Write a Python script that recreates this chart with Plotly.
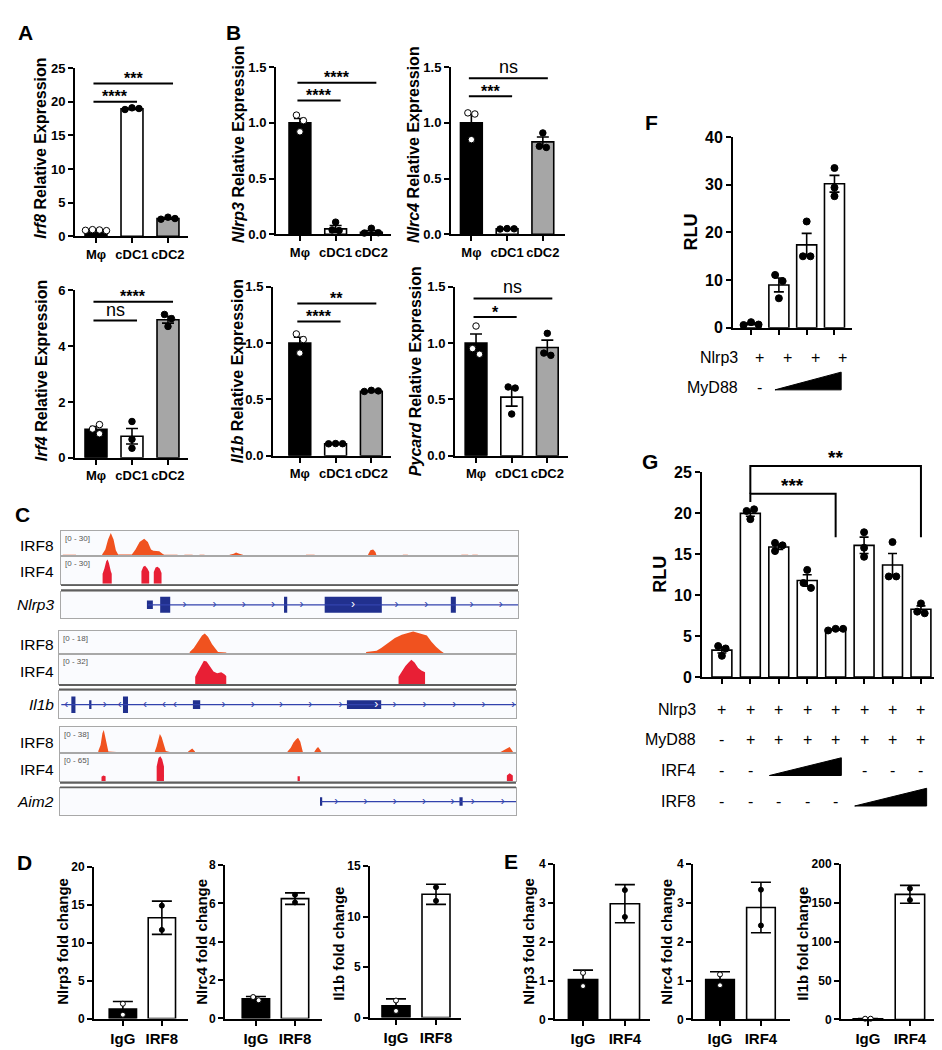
import plotly.graph_objects as go

W, H = 942, 1050
FONT = "Liberation Sans, Arial, Helvetica, sans-serif"

# =============================== DATA ===============================
CELLS = ["Mφ", "cDC1", "cDC2"]
CELL_FILL = ["#000000", "#ffffff", "#a6a6a6"]
CELL_PT = ["#ffffff", "#000000", "#000000"]

IRF8_MEAN = [0.93, 18.95, 2.65]
IRF8_SEM = [0.05, 0.08, 0.1]
IRF8_PTS = [[1.0, 0.95, 0.9, 0.85], [19.1, 19.0, 18.85], [2.85, 2.65, 2.55]]
IRF8_SIG = [(0, 1, 20.0, "****"), (0, 2, 22.7, "***")]

IRF4_MEAN = [1.02, 0.77, 4.95]
IRF4_SEM = [0.1, 0.28, 0.12]
IRF4_PTS = [[1.03, 1.19, 0.86], [1.30, 0.66, 0.34], [5.14, 4.99, 4.71]]
IRF4_SIG = [(0, 1, 4.92, "ns"), (0, 2, 5.6, "****")]

NLRP3_MEAN = [1.0, 0.05, 0.02]
NLRP3_SEM = [0.04, 0.03, 0.015]
NLRP3_PTS = [[0.92, 1.07, 1.02], [0.11, 0.04, 0.035], [0.055, 0.015, 0.012]]
NLRP3_SIG = [(0, 1, 1.20, "****"), (0, 2, 1.36, "****")]

NLRC4_MEAN = [1.0, 0.05, 0.83]
NLRC4_SEM = [0.075, 0.003, 0.044]
NLRC4_PTS = [[0.85, 1.09, 1.08], [0.052, 0.05, 0.048], [0.91, 0.79, 0.78]]
NLRC4_SIG = [(0, 1, 1.24, "***"), (0, 2, 1.40, "ns")]

IL1B_MEAN = [1.0, 0.107, 0.572]
IL1B_SEM = [0.05, 0.002, 0.004]
IL1B_PTS = [[0.91, 1.08, 1.03], [0.108, 0.107, 0.106], [0.58, 0.575, 0.57]]
IL1B_SIG = [(0, 1, 1.19, "****"), (0, 2, 1.35, "**")]

PYCARD_MEAN = [1.0, 0.52, 0.96]
PYCARD_SEM = [0.08, 0.08, 0.065]
PYCARD_PTS = [[1.15, 0.95, 0.90], [0.37, 0.61, 0.60], [1.085, 0.91, 0.89]]
PYCARD_SIG = [(0, 1, 1.23, "*"), (0, 2, 1.395, "ns")]

# ChIP fold change (D: IRF8, E: IRF4)
D_CATS = ["IgG", "IRF8"]
E_CATS = ["IgG", "IRF4"]
CHIP_FILL = ["#000000", "#ffffff"]
CHIP_PT = ["#ffffff", "#000000"]
D_NLRP3_MEAN = [1.25, 13.3]
D_NLRP3_SD = [1.0, 2.2]
D_NLRP3_PTS = [[1.95, 0.5], [14.9, 11.7]]
D_NLRC4_MEAN = [1.03, 6.25]
D_NLRC4_SD = [0.12, 0.3]
D_NLRC4_PTS = [[1.12, 0.95], [6.45, 6.05]]
D_IL1B_MEAN = [1.15, 12.2]
D_IL1B_SD = [0.7, 1.0]
D_IL1B_PTS = [[1.68, 0.65], [12.9, 11.55]]
E_NLRP3_MEAN = [1.03, 2.98]
E_NLRP3_SD = [0.24, 0.49]
E_NLRP3_PTS = [[1.2, 0.86], [3.33, 2.64]]
E_NLRC4_MEAN = [1.03, 2.88]
E_NLRC4_SD = [0.2, 0.65]
E_NLRC4_PTS = [[1.16, 0.88], [3.34, 2.42]]
E_IL1B_MEAN = [1.0, 161.0]
E_IL1B_SD = [0.3, 11.5]
E_IL1B_PTS = [[1.0, 1.0], [168.4, 153.7]]

# Luciferase (F, G)
F_MEAN = [0.83, 9.0, 17.4, 30.2]
F_SEM = [0.18, 1.45, 2.4, 1.75]
F_PTS = [[1.2, 0.7, 0.6], [11.1, 9.8, 6.2], [22.3, 15.0, 15.0], [33.5, 29.4, 27.6]]
F_ROWS = [("Nlrp3", ["+", "+", "+", "+"], None),
          ("MyD88", ["-", "", "", ""], (1, 3))]

G_MEAN = [3.3, 20.0, 15.9, 11.8, 5.8, 16.1, 13.7, 8.3]
G_SEM = [0.35, 0.35, 0.3, 0.7, 0.07, 1.0, 1.4, 0.4]
G_PTS = [[3.8, 3.5, 2.6], [20.3, 20.5, 19.3], [16.4, 16.1, 15.4], [13.1, 11.5, 10.9],
         [5.9, 5.9, 5.7], [17.7, 15.8, 14.7], [16.5, 12.3, 12.3], [9.0, 8.0, 7.8]]
G_ROWS = [("Nlrp3", ["+", "+", "+", "+", "+", "+", "+", "+"], None),
          ("MyD88", ["-", "+", "+", "+", "+", "+", "+", "+"], None),
          ("IRF4", ["-", "-", "", "", "", "-", "-", "-"], (2, 4)),
          ("IRF8", ["-", "-", "-", "-", "-", "", "", ""], (5, 7))]
# (from bar, to bar, bracket top, left leg bottom, right leg bottom, label)
G_SIG = [(1, 4, 22.4, 21.4, 17.1, "***"), (1, 7, 25.8, 22.4, 17.1, "**")]

# ChIP-seq coverage profiles, genomic position 0-100 of the window, signal
IRF8_NLRP3 = [(0.4, 0), (0.4, 1.5), (3.3, 1.5), (3.3, 0),
              (9.0, 0), (9.0, 2), (9.7, 8), (10.3, 20), (10.9, 28), (11.5, 20), (12.0, 7), (12.5, 2),
              (15.5, 2), (16.3, 8), (17.2, 17), (18.2, 21), (19.0, 17), (19.7, 8), (20.2, 6.5),
              (21.5, 6), (22.2, 3), (22.6, 1.5), (25.5, 1.5), (25.5, 0),
              (27.0, 0), (27.0, 1.5), (28.8, 1.5), (28.8, 0),
              (30.3, 0), (30.3, 1.5), (31.4, 1.5), (31.4, 0),
              (36.9, 0), (36.9, 1.5), (37.8, 3), (38.3, 4.5), (39.0, 3), (39.8, 1.5), (39.8, 0),
              (53.6, 0), (53.6, 1.5), (55.5, 1.5), (55.5, 0),
              (67.2, 0), (67.2, 2), (67.7, 7), (68.3, 8), (68.8, 5), (69.0, 1.5), (69.0, 0),
              (74.8, 0), (74.8, 1.5), (75.9, 1.5), (75.9, 0),
              (87.6, 0), (87.6, 1.5), (89.1, 1.5), (89.1, 0),
              (90.0, 0), (90.0, 1.5), (91.2, 1.5), (91.2, 0)]
IRF4_NLRP3 = [(9.1, 0), (9.1, 11), (9.5, 17), (9.9, 25), (10.2, 27), (10.5, 23), (10.9, 14), (11.1, 11), (11.1, 0),
              (17.6, 0), (17.6, 14), (18.0, 19), (18.4, 20), (18.9, 17), (19.3, 13), (19.3, 0),
              (20.3, 0), (20.3, 13), (20.7, 18), (21.1, 19), (21.6, 17), (22.0, 12), (22.0, 0)]
IRF8_IL1B = [(9.6, 0), (9.6, 1), (14.0, 1), (14.0, 0),
             (18.7, 0), (18.7, 1), (25.7, 1), (25.7, 0),
             (28.6, 0), (28.6, 2), (29.5, 5), (30.4, 10), (31.3, 15), (31.9, 16.5), (32.6, 14),
             (33.5, 8), (34.3, 4), (34.8, 2), (36.6, 1.5), (36.6, 0),
             (47.2, 0), (47.2, 1), (51.2, 1), (51.2, 0),
             (67.2, 0), (67.2, 2), (69.5, 3), (70.5, 5), (72.0, 9), (73.5, 13), (75.0, 15.5),
             (76.5, 17), (77.5, 18), (79.0, 16.5), (80.5, 15), (81.5, 10), (82.5, 6), (83.5, 3),
             (84.3, 1), (84.3, 0),
             (89.8, 0), (89.8, 1), (99.8, 1), (99.8, 0)]
IRF4_IL1B = [(29.8, 0), (29.8, 8), (30.4, 14), (31.0, 20), (31.7, 26), (32.3, 25), (33.0, 20), (33.8, 14),
             (34.6, 12), (35.5, 13), (36.2, 11), (36.6, 9), (36.6, 0),
             (74.3, 0), (74.3, 8), (75.0, 14), (75.8, 20), (76.5, 24), (77.1, 27), (77.8, 24),
             (78.6, 18), (79.3, 15), (80.1, 13), (80.1, 0)]
IRF8_AIM2 = [(8.4, 0), (8.4, 3), (8.9, 12), (9.3, 30), (9.6, 35), (9.9, 25), (10.3, 10), (10.6, 2), (12.4, 1.5), (12.4, 0),
             (17.2, 0), (17.2, 1.5), (18.2, 1.5), (18.2, 0),
             (18.6, 0), (18.6, 1.5), (19.7, 1.5), (19.7, 0),
             (20.8, 0), (20.8, 2), (21.2, 10), (21.6, 24), (21.9, 29), (22.3, 24), (22.8, 10), (23.2, 3),
             (24.1, 1.5), (24.1, 0),
             (28.1, 0), (28.1, 2), (28.7, 5), (29.0, 6.5), (29.6, 2), (29.6, 0),
             (48.2, 0), (48.2, 1.5), (49.3, 1.5), (49.3, 0),
             (49.9, 0), (49.9, 2), (50.6, 8), (51.2, 16), (51.8, 21), (52.2, 23), (52.7, 17), (53.1, 8),
             (53.3, 2), (53.3, 0),
             (53.6, 0), (53.6, 1.5), (54.4, 1.5), (54.4, 0),
             (55.8, 0), (55.8, 2), (56.3, 7), (56.6, 9), (57.0, 5), (57.3, 2), (57.3, 0),
             (58.0, 0), (58.0, 1.5), (59.1, 1.5), (59.1, 0),
             (60.6, 0), (60.6, 1.5), (61.3, 1.5), (61.3, 0),
             (67.2, 0), (67.2, 1.5), (68.2, 1.5), (68.2, 0),
             (69.0, 0), (69.0, 1.5), (69.7, 1.5), (69.7, 0),
             (81.4, 0), (81.4, 1.5), (83.6, 1.5), (83.6, 0),
             (84.9, 0), (84.9, 1.5), (85.8, 1.5), (85.8, 0),
             (86.9, 0), (86.9, 1.5), (88.0, 1.5), (88.0, 0),
             (96.6, 0), (96.6, 1.5), (97.4, 4), (98.3, 8), (98.6, 9), (99.0, 5), (99.3, 2), (99.3, 0)]
IRF4_AIM2 = [(9.1, 0), (9.1, 11), (9.5, 14), (10.0, 12), (10.0, 0),
             (21.2, 0), (21.2, 35), (21.6, 55), (22.0, 59), (22.4, 52), (22.8, 35), (22.8, 0),
             (52.1, 0), (52.1, 12), (52.6, 12), (52.6, 0),
             (98.0, 0), (98.0, 14), (98.6, 19), (99.3, 14), (99.3, 0)]
TRACK_MAX = {"IRF8_NLRP3": 30, "IRF4_NLRP3": 30, "IRF8_IL1B": 18, "IRF4_IL1B": 32,
             "IRF8_AIM2": 38, "IRF4_AIM2": 65}

# gene models: (start, end, kind); span; arrows (position, direction)
NLRP3_SPAN = (19.0, 100.0)
NLRP3_EXONS = [(18.8, 20.1, "utr"), (21.7, 23.9, "cds"), (48.8, 49.5, "cds"),
               (57.7, 70.2, "cds"), (85.3, 86.4, "cds")]
NLRP3_ARROWS = [(27, ">"), (33.6, ">"), (40, ">"), (46.4, ">"), (52.6, ">"), (73.4, ">"),
                (79.9, ">"), (89.8, ">"), (96.2, ">")]
NLRP3_INNER = [(63.9, ">")]
IL1B_SPAN = (0.5, 100.0)
IL1B_EXONS = [(2.7, 3.6, "cds"), (6.6, 7.1, "utr"), (14.0, 15.1, "cds"),
              (29.3, 30.9, "utr"), (63.0, 70.5, "utr")]
IL1B_ARROWS = [(1.6, "<"), (10.0, ">"), (13.3, "<"), (18.8, "<"),
               (23.0, "<"), (25.4, "<"), (36.0, ">"), (42.4, ">"), (48.6, ">"), (55.0, ">"),
               (61.6, ">"), (73.4, ">"), (80.0, ">"), (86.5, ">"), (92.9, ">"), (99.4, ">")]
IL1B_INNER = [(69.4, ">")]
AIM2_SPAN = (57.3, 100.0)
AIM2_EXONS = [(57.2, 57.5, "utr"), (87.6, 88.3, "utr")]
AIM2_ARROWS = [(60.6, ">"), (67.0, ">"), (73.4, ">"), (79.8, ">"), (86.1, ">"), (90.5, ">"), (97.1, ">")]
AIM2_INNER = []

# =============================== HELPERS ===============================
traces, shapes, annotations = [], [], []
layout = dict(width=W, height=H, margin=dict(l=0, r=0, t=0, b=0),
              paper_bgcolor="white", plot_bgcolor="rgba(0,0,0,0)",
              showlegend=False, font=dict(family=FONT, color="black"))
AXINFO = {}
NAX = [0]


def new_axes(x0, x1, ytop, ybot, xr, yr, xkw=None, ykw=None):
    NAX[0] += 1
    s = "" if NAX[0] == 1 else str(NAX[0])
    xa = dict(domain=[x0 / W, x1 / W], range=xr, anchor="y" + s, showgrid=False,
              zeroline=False, fixedrange=True)
    ya = dict(domain=[1 - ybot / H, 1 - ytop / H], range=yr, anchor="x" + s, showgrid=False,
              zeroline=False, fixedrange=True)
    xa.update(xkw or {})
    ya.update(ykw or {})
    layout["xaxis" + s] = xa
    layout["yaxis" + s] = ya
    AXINFO["x" + s] = (x0 / W, x1 / W, xr)
    AXINFO["y" + s] = (1 - ybot / H, 1 - ytop / H, yr)
    return "x" + s, "y" + s


def to_paper(ax, v):
    d0, d1, r = AXINFO[ax]
    return d0 + (v - r[0]) / (r[1] - r[0]) * (d1 - d0)


def ann(x, y, s, size, bold=False, angle=0, xanchor="center", yanchor="middle",
        color="black", yshift=0):
    annotations.append(dict(x=x, y=y, xref="paper", yref="paper", text=s, showarrow=False,
                            textangle=angle, xanchor=xanchor, yanchor=yanchor, yshift=yshift,
                            font=dict(family=FONT, size=size, color=color,
                                      weight="bold" if bold else "normal")))


def txt(x, y, s, size, **kw):
    ann(x / W, 1 - y / H, s, size, **kw)


def line_paper(x0, y0, x1, y1, width=2, color="black"):
    shapes.append(dict(type="line", xref="paper", yref="paper", x0=x0, y0=y0, x1=x1, y1=y1,
                       line=dict(color=color, width=width)))


def swarm(vals, ppu_y, ppu_x, d):
    placed, offs = [], []
    for v in vals:
        y = v * ppu_y
        for k in [0, 1, -1, 2, -2, 3, -3]:
            x = k * d
            if all((x - a) ** 2 + (y - b) ** 2 >= (d * 0.98) ** 2 for a, b in placed):
                break
        placed.append((x, y))
        offs.append(x)
    n = len(vals)
    cl = list(range(n))
    for i in range(n):
        for j in range(n):
            if i != j and abs(placed[i][1] - placed[j][1]) < d * 0.98:
                a, b = cl[i], cl[j]
                cl = [a if c == b else c for c in cl]
    for c in set(cl):
        idx = [i for i in range(n) if cl[i] == c]
        if len(idx) > 1:
            xs = [offs[i] for i in idx]
            mid = (max(xs) + min(xs)) / 2
            for i in idx:
                offs[i] -= mid
    return [o / ppu_x for o in offs]


def bar_panel(box, xr, yr, dtick, cats, means, errs, pts, fills, ptfills, bar_w, cap, msize,
              ytick_fs, xcat_fs, yfmt="", show_cats=True):
    x0, x1, yt, yb = box
    tf_y = dict(family=FONT, size=ytick_fs, color="black", weight="bold")
    tf_x = dict(family=FONT, size=xcat_fs, color="black", weight="bold")
    n = len(cats)
    xref, yref = new_axes(
        x0, x1, yt, yb, xr, yr,
        xkw=dict(showline=True, linecolor="black", linewidth=2, ticks="outside", ticklen=5,
                 tickwidth=2, tickcolor="black", tickvals=list(range(n)), tickangle=0,
                 ticktext=cats if show_cats else [""] * n, tickfont=tf_x),
        ykw=dict(showline=True, linecolor="black", linewidth=2, ticks="outside", ticklen=5,
                 tickwidth=2, tickcolor="black", tick0=0, dtick=dtick, tickformat=yfmt,
                 tickfont=tf_y))
    traces.append(go.Bar(x=list(range(n)), y=means, width=bar_w, xaxis=xref, yaxis=yref,
                         marker=dict(color=fills, line=dict(color="black", width=1.6)),
                         error_y=dict(type="data", array=errs, color="black", thickness=1.6,
                                      width=cap)))
    ppu_y = (yb - yt) / (yr[1] - yr[0])
    ppu_x = (x1 - x0) / (xr[1] - xr[0])
    for i, vals in enumerate(pts):
        offs = swarm(vals, ppu_y, ppu_x, msize + 0.5)
        traces.append(go.Scatter(x=[i + o for o in offs], y=vals, mode="markers",
                                 xaxis=xref, yaxis=yref, cliponaxis=False,
                                 marker=dict(size=msize, color=ptfills[i],
                                             line=dict(color="black", width=1))))
    return xref, yref


def sig_lines(xref, yref, sigs, lo=0.07, hi=0.14, ast_fs=16, ns_fs=18):
    for i, j, yv, lab in sigs:
        xa, xb = to_paper(xref, i - lo), to_paper(xref, j + hi)
        yy = to_paper(yref, yv)
        line_paper(xa, yy, xb, yy, width=2)
        if lab == "ns":
            ann((xa + xb) / 2, yy, lab, ns_fs, yshift=11)
        else:
            ann((xa + xb) / 2, yy, lab, ast_fs, bold=True, yshift=5)


TITLE_AB = 16
# =============================== PANEL A ===============================
xr_, yr_ = bar_panel((67, 180, 53, 224), [-0.583, 2.556], [0, 25], 5, CELLS, IRF8_MEAN, IRF8_SEM,
                     IRF8_PTS, CELL_FILL, CELL_PT, 0.61, 6, 6.5, 13, 13)
sig_lines(xr_, yr_, IRF8_SIG)
txt(33, 135, "<i>Irf8</i> Relative Expression", TITLE_AB, bold=True, angle=-90)

xr_, yr_ = bar_panel((67, 180, 279, 449), [-0.583, 2.556], [0, 6], 2, CELLS, IRF4_MEAN, IRF4_SEM,
                     IRF4_PTS, CELL_FILL, CELL_PT, 0.61, 6, 6.5, 13, 13)
sig_lines(xr_, yr_, IRF4_SIG)
txt(33, 361, "<i>Irf4</i> Relative Expression", TITLE_AB, bold=True, angle=-90)

# =============================== PANEL B ===============================
B_SPECS = [((268, 383, 52, 222), [-0.67, 2.55], NLRP3_MEAN, NLRP3_SEM, NLRP3_PTS, NLRP3_SIG,
            (231, 131), "<i>Nlrp3</i> Relative Expression"),
           ((443, 557, 52, 222), [-0.57, 2.62], NLRC4_MEAN, NLRC4_SEM, NLRC4_PTS, NLRC4_SIG,
            (406, 131), "<i>Nlrc4</i> Relative Expression"),
           ((265, 383, 275, 447), [-0.75, 2.55], IL1B_MEAN, IL1B_SEM, IL1B_PTS, IL1B_SIG,
            (229, 361), "<i>Il1b</i> Relative Expression"),
           ((447, 560, 275, 447), [-0.59, 2.58], PYCARD_MEAN, PYCARD_SEM, PYCARD_PTS, PYCARD_SIG,
            (407, 361), "<i>Pycard</i> Relative Expression")]
for box, xr, m, e, p, sg, tpos, title in B_SPECS:
    xr_, yr_ = bar_panel(box, xr, [0, 1.5], 0.5, CELLS, m, e, p, CELL_FILL, CELL_PT, 0.61, 6,
                         6.5, 13, 13, yfmt=".1f")
    sig_lines(xr_, yr_, sg)
    txt(tpos[0], tpos[1], title, TITLE_AB, bold=True, angle=-90)

# =============================== PANEL C ===============================
IRF8_COL = "#f0521f"
IRF4_COL = "#e81f35"
GENE_COL = "#21308e"
GENE_LINE = "#3242ad"
TRACK_BG = "#fafbfe"
KIND_H = {"cds": 0.3, "utr": 0.16}


def track_axes(box, ymax):
    x0, x1, yt, yb = box
    xr_, yr_ = new_axes(x0, x1, yt, yb, [0, 100], [0, ymax],
                        xkw=dict(showline=True, mirror=True, linecolor="#a8a8a8", linewidth=1,
                                 showticklabels=False, ticks=""),
                        ykw=dict(showline=True, mirror=True, linecolor="#a8a8a8", linewidth=1,
                                 showticklabels=False, ticks=""))
    shapes.append(dict(type="rect", xref=xr_ + " domain", yref=yr_ + " domain", x0=0, x1=1,
                       y0=0, y1=1, fillcolor=TRACK_BG, line=dict(width=0), layer="below"))
    return xr_, yr_


def coverage(box, prof, ymax, color, label, rng):
    xr_, yr_ = track_axes(box, ymax * 1.03)
    traces.append(go.Scatter(x=[p[0] for p in prof], y=[p[1] for p in prof], mode="lines",
                             fill="tozeroy", fillcolor=color, line=dict(color=color, width=0),
                             xaxis=xr_, yaxis=yr_))
    txt(box[0] + 2, box[2] + 1, rng, 8, color="#555555", xanchor="left", yanchor="top")
    txt(48, (box[2] + box[3]) / 2 + 2, label, 15.5, xanchor="right")


def gene(box, span, exons, arrows, inner, name):
    xr_, yr_ = track_axes(box, 1)
    traces.append(go.Scatter(x=list(span), y=[0.5, 0.5], mode="lines",
                             line=dict(color=GENE_LINE, width=1.3), xaxis=xr_, yaxis=yr_))
    traces.append(go.Bar(x=[(a + b) / 2 for a, b, k in exons], width=[b - a for a, b, k in exons],
                         y=[2 * KIND_H[k] for a, b, k in exons],
                         base=[0.5 - KIND_H[k] for a, b, k in exons],
                         marker=dict(color=GENE_COL, line=dict(width=0)), xaxis=xr_, yaxis=yr_))
    traces.append(go.Scatter(x=[a for a, d in arrows], y=[0.5] * len(arrows), mode="text",
                             text=["›" if d == ">" else "‹" for a, d in arrows],
                             textfont=dict(family=FONT, size=12, color=GENE_LINE),
                             xaxis=xr_, yaxis=yr_))
    if inner:
        traces.append(go.Scatter(x=[a for a, d in inner], y=[0.5] * len(inner), mode="text",
                                 text=["›" for a, d in inner],
                                 textfont=dict(family=FONT, size=12, color="white"),
                                 xaxis=xr_, yaxis=yr_))
    txt(48, (box[2] + box[3]) / 2, "<i>" + name + "</i>", 15.5, xanchor="right")


def dbl_line(x0, x1, y0, y1):
    line_paper(x0 / W, 1 - y0 / H, x1 / W, 1 - y0 / H, width=1.8, color="#5f5f5f")
    line_paper(x0 / W, 1 - y1 / H, x1 / W, 1 - y1 / H, width=1.8, color="#5f5f5f")


coverage((53, 510, 523, 549), IRF8_NLRP3, TRACK_MAX["IRF8_NLRP3"], IRF8_COL, "IRF8", "[0 - 30]")
coverage((53, 510, 549, 577), IRF4_NLRP3, TRACK_MAX["IRF4_NLRP3"], IRF4_COL, "IRF4", "[0 - 30]")
dbl_line(53, 510, 578.5, 583.5)
gene((53, 510, 585, 612), NLRP3_SPAN, NLRP3_EXONS, NLRP3_ARROWS, NLRP3_INNER, "Nlrp3")

coverage((51, 508, 625, 649), IRF8_IL1B, TRACK_MAX["IRF8_IL1B"], IRF8_COL, "IRF8", "[0 - 18]")
coverage((51, 508, 649, 679), IRF4_IL1B, TRACK_MAX["IRF4_IL1B"], IRF4_COL, "IRF4", "[0 - 32]")
dbl_line(51, 508, 680, 684.5)
gene((51, 508, 686, 714), IL1B_SPAN, IL1B_EXONS, IL1B_ARROWS, IL1B_INNER, "Il1b")

coverage((52, 508, 723, 749), IRF8_AIM2, TRACK_MAX["IRF8_AIM2"], IRF8_COL, "IRF8", "[0 - 38]")
coverage((52, 508, 749, 778), IRF4_AIM2, TRACK_MAX["IRF4_AIM2"], IRF4_COL, "IRF4", "[0 - 65]")
dbl_line(52, 508, 779.5, 784)
gene((52, 508, 785, 812), AIM2_SPAN, AIM2_EXONS, AIM2_ARROWS, AIM2_INNER, "Aim2")

# =============================== PANELS D / E ===============================
DE_SPECS = [((86, 180, 865, 1019), [-0.74, 1.67], [0, 20], 5, D_CATS, D_NLRP3_MEAN, D_NLRP3_SD,
             D_NLRP3_PTS, (55, 941), "Nlrp3 fold change"),
            ((217, 314, 863, 1019), [-0.79, 1.69], [0, 8], 2, D_CATS, D_NLRC4_MEAN, D_NLRC4_SD,
             D_NLRC4_PTS, (194, 941), "Nlrc4 fold change"),
            ((362, 453, 864, 1018), [-0.65, 1.625], [0, 15], 5, D_CATS, D_IL1B_MEAN, D_IL1B_SD,
             D_IL1B_PTS, (331, 943), "Il1b fold change"),
            ((547, 642, 862, 1020), [-0.67, 1.6], [0, 4], 1, E_CATS, E_NLRP3_MEAN, E_NLRP3_SD,
             E_NLRP3_PTS, (521, 941), "Nlrp3 fold change"),
            ((685, 782, 862, 1020), [-0.66, 1.71], [0, 4], 1, E_CATS, E_NLRC4_MEAN, E_NLRC4_SD,
             E_NLRC4_PTS, (659, 941), "Nlrc4 fold change"),
            ((833, 928, 862, 1020), [-0.64, 1.62], [0, 200], 50, E_CATS, E_IL1B_MEAN, E_IL1B_SD,
             E_IL1B_PTS, (795, 943), "Il1b fold change")]
for box, xr, yr, dt, cats, m, e, p, tpos, title in DE_SPECS:
    bar_panel(box, xr, yr, dt, cats, m, e, p, CHIP_FILL, CHIP_PT, 0.7, 10, 5, 12, 15)
    txt(tpos[0], tpos[1], title, 15, bold=True, angle=-90)

# =============================== PANEL F ===============================
fx, fy = bar_panel((725, 844, 123, 317), [-0.65, 3.63], [0, 40], 10, ["", "", "", ""],
                   F_MEAN, F_SEM, F_PTS, ["white"] * 4, ["black"] * 4, 0.72, 5, 7, 16, 15,
                   show_cats=False)
txt(683, 220, "RLU", 18, bold=True, angle=-90)
F_ROW_Y = [347, 378]
for (lab, syms, wedge), ry in zip(F_ROWS, F_ROW_Y):
    txt(732, ry, lab, 16, xanchor="right")
    for k, s in enumerate(syms):
        if s:
            ann(to_paper(fx, k + 0.3), 1 - ry / H, s, 16)
    if wedge:
        xa, xb = to_paper(fx, wedge[0] - 0.14), to_paper(fx, wedge[1] + 0.24)
        yb_, yt_ = 1 - (ry + 2) / H, 1 - (ry - 16) / H
        shapes.append(dict(type="path", xref="paper", yref="paper",
                           path=f"M {xa},{yb_} L {xb},{yb_} L {xb},{yt_} Z",
                           fillcolor="black", line=dict(color="black", width=1)))

# =============================== PANEL G ===============================
gx, gy = bar_panel((694, 932, 464, 672), [-0.70, 7.67], [0, 25], 5, [""] * 8,
                   G_MEAN, G_SEM, G_PTS, ["white"] * 8, ["black"] * 8, 0.70, 4.5, 7, 16, 15,
                   show_cats=False)
txt(652, 568, "RLU", 18, bold=True, angle=-90)
for i, j, top, lb, rb, lab in G_SIG:
    xa, xb = to_paper(gx, i), to_paper(gx, j)
    shapes.append(dict(type="path", xref="paper", yref="paper",
                       path=(f"M {xa},{to_paper(gy, lb)} L {xa},{to_paper(gy, top)} "
                             f"L {xb},{to_paper(gy, top)} L {xb},{to_paper(gy, rb)}"),
                       line=dict(color="black", width=2)))
    ann((xa + xb) / 2, to_paper(gy, top), lab, 19, bold=True, yshift=8)
G_ROW_Y = [705, 735, 767, 798]
for (lab, syms, wedge), ry in zip(G_ROWS, G_ROW_Y):
    txt(690, ry, lab, 16, xanchor="right")
    for k, s in enumerate(syms):
        if s:
            ann(to_paper(gx, k), 1 - ry / H, s, 16)
    if wedge:
        xa, xb = to_paper(gx, wedge[0] - 0.33), to_paper(gx, wedge[1] + 0.2)
        yb_, yt_ = 1 - (ry + 5) / H, 1 - (ry - 13) / H
        shapes.append(dict(type="path", xref="paper", yref="paper",
                           path=f"M {xa},{yb_} L {xb},{yb_} L {xb},{yt_} Z",
                           fillcolor="black", line=dict(color="black", width=1)))

# =============================== PANEL LETTERS ===============================
for L, x, y in [("A", 17, 17), ("B", 225, 17), ("C", 14, 507), ("D", 16, 860),
                ("E", 503, 859), ("F", 643, 108), ("G", 642, 453)]:
    txt(x, y, L, 21, bold=True)

layout["shapes"] = shapes
layout["annotations"] = annotations
fig = go.Figure(data=traces, layout=layout)
fig.update_traces(showlegend=False)
fig.write_html("out.html")
